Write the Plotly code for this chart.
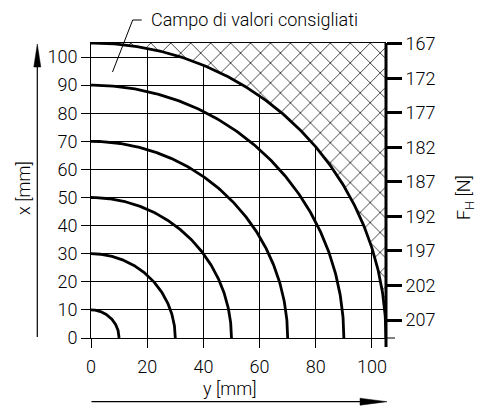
import numpy as np
import plotly.graph_objects as go

# Recommended-value field: quarter circles of constant force
radii = [10, 30, 50, 70, 90, 105]          # mm
outer_radius = 105                          # boundary of the recommended field
y_ticks = [0, 20, 40, 60, 80, 100]          # horizontal axis: y [mm]
x_ticks = [0, 10, 20, 30, 40, 50, 60, 70, 80, 90, 100]   # vertical axis: x [mm]
force_ticks = [167, 172, 177, 182, 187, 192, 197, 202, 207]  # F_H [N]
force_range = [209.6, 166.9]                # F_H at x = 0 and x = 105
label_text = "Campo di valori consigliati"

W, H = 478, 407
ML, MR, MT, MB = 91, 92, 43, 69
PW, PH = W - ML - MR, H - MT - MB
FONT = "Roboto"
WEIGHT = 300


def px(x):
    """pixel column -> paper x"""
    return (x - ML) / PW


def py(y):
    """pixel row -> paper y"""
    return (H - MB - y) / PH


fig = go.Figure()

# hatched region outside the outer circle
t = np.linspace(0, np.pi / 2, 181)
hx = list(outer_radius * np.cos(t)) + [outer_radius, outer_radius]
hy = list(outer_radius * np.sin(t)) + [outer_radius, 0]
fig.add_trace(go.Scatter(
    x=hx, y=hy, mode="lines", fill="toself",
    line=dict(width=0, color="rgba(0,0,0,0)"),
    fillcolor="white",
    fillpattern=dict(shape="x", size=14.1, solidity=0.1, fgopacity=1,
                     fgcolor="black", bgcolor="white"),
    hoverinfo="skip", showlegend=False,
))

# quarter circles
for r in radii:
    fig.add_trace(go.Scatter(
        x=r * np.cos(t), y=r * np.sin(t), mode="lines",
        line=dict(color="black", width=2.8),
        hoverinfo="skip", showlegend=False,
    ))

# force scale carrier on the secondary axis
fig.add_trace(go.Scatter(
    x=[outer_radius] * len(force_ticks), y=force_ticks, yaxis="y2",
    mode="markers", marker=dict(opacity=0), hoverinfo="skip", showlegend=False,
))

tickfont = dict(family=FONT, size=18, color="black", weight=WEIGHT)

fig.update_layout(
    width=W, height=H,
    margin=dict(l=ML, r=MR, t=MT, b=MB, pad=0),
    paper_bgcolor="white", plot_bgcolor="white",
    font=dict(family=FONT, size=18, color="black", weight=WEIGHT),
    xaxis=dict(
        range=[0, 105], tickvals=y_ticks, ticks="outside", ticklen=9,
        tickwidth=1, tickcolor="black", showgrid=True, gridcolor="black",
        gridwidth=1, zeroline=False, showline=True, linecolor="black",
        linewidth=1, mirror=True, tickfont=tickfont, fixedrange=True,
        ticklabelstandoff=3,
    ),
    yaxis=dict(
        range=[0, 105], tickvals=x_ticks, ticks="outside", ticklen=9,
        tickwidth=1, tickcolor="black", showgrid=True, gridcolor="black",
        gridwidth=1, zeroline=False, showline=True, linecolor="black",
        linewidth=1, tickfont=tickfont, fixedrange=True,
    ),
    yaxis2=dict(
        overlaying="y", side="right", range=force_range,
        tickvals=force_ticks, ticks="outside", ticklen=15, tickwidth=3,
        tickcolor="black", showgrid=False, zeroline=False, showline=False,
        tickfont=tickfont, fixedrange=True,
    ),
)

shapes = [
    # thick right boundary, running down past the bottom axis
    dict(type="line", xref="paper", yref="paper", x0=1, x1=1,
         y0=py(347), y1=1, line=dict(color="black", width=3)),
    # bottom line overhang on the right
    dict(type="line", xref="paper", yref="paper", x0=1, x1=px(395),
         y0=0, y1=0, line=dict(color="black", width=1)),
    # leader line of the field label
    dict(type="path", xref="paper", yref="paper",
         path=f"M {px(141.7)},{py(20)} L {px(132.7)},{py(20)} L {px(112.5)},{py(72)}",
         line=dict(color="black", width=1)),
    # vertical axis arrow
    dict(type="line", xref="paper", yref="paper", x0=px(37.3), x1=px(37.3),
         y0=py(337), y1=py(62), line=dict(color="black", width=1.2)),
    dict(type="path", xref="paper", yref="paper",
         path=f"M {px(37.3)},{py(44)} L {px(40.8)},{py(67)} L {px(33.8)},{py(67)} Z",
         fillcolor="black", line=dict(color="black", width=0.5)),
    # horizontal axis arrow
    dict(type="line", xref="paper", yref="paper", x0=px(91.5), x1=px(365),
         y0=py(401.7), y1=py(401.7), line=dict(color="black", width=1.2)),
    dict(type="path", xref="paper", yref="paper",
         path=f"M {px(387)},{py(401.7)} L {px(360)},{py(398.2)} L {px(360)},{py(405.2)} Z",
         fillcolor="black", line=dict(color="black", width=0.5)),
]
fig.update_layout(shapes=shapes)

ann = dict(xref="paper", yref="paper", showarrow=False,
           font=dict(family=FONT, size=18, color="black", weight=WEIGHT))
fig.update_layout(annotations=[
    dict(ann, text=label_text, x=px(149), y=py(20), xanchor="left", yanchor="middle"),
    dict(ann, text="x [mm]", x=px(23), y=py(188), textangle=-90,
         xanchor="center", yanchor="middle"),
    dict(ann, text="y [mm]", x=px(230), y=py(388), xanchor="center", yanchor="middle"),
    dict(ann, text="F<sub>H</sub> [N]", x=px(465), y=py(198), textangle=-90,
         xanchor="center", yanchor="middle"),
])

fig.write_html("out.html")
